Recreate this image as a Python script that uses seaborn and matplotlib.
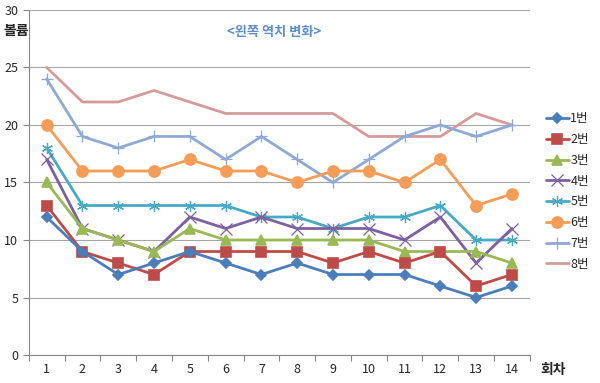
import pandas as pd
import matplotlib.pyplot as plt
import seaborn as sns

rounds = list(range(1, 15))
s1 = [12, 9, 7, 8, 9, 8, 7, 8, 7, 7, 7, 6, 5, 6]
s2 = [13, 9, 8, 7, 9, 9, 9, 9, 8, 9, 8, 9, 6, 7]
s3 = [15, 11, 10, 9, 11, 10, 10, 10, 10, 10, 9, 9, 9, 8]
s4 = [17, 11, 10, 9, 12, 11, 12, 11, 11, 11, 10, 12, 8, 11]
s5 = [18, 13, 13, 13, 13, 13, 12, 12, 11, 12, 12, 13, 10, 10]
s6 = [20, 16, 16, 16, 17, 16, 16, 15, 16, 16, 15, 17, 13, 14]
s7 = [24, 19, 18, 19, 19, 17, 19, 17, 15, 17, 19, 20, 19, 20]
s8 = [25, 22, 22, 23, 22, 21, 21, 21, 21, 19, 19, 19, 21, 20]
names = ['1번', '2번', '3번', '4번', '5번', '6번', '7번', '8번']

rows = []
for name, vals in zip(names, [s1, s2, s3, s4, s5, s6, s7, s8]):
    for r, v in zip(rounds, vals):
        rows.append({'회차': r, '볼륨': v, '번': name})
df = pd.DataFrame(rows)

sns.set_style('white')
plt.rcParams['font.family'] = ['Noto Sans CJK KR', 'DejaVu Sans']

colors = ['#4A7EBB', '#BE4B48', '#98B954', '#7D60A0', '#46AAC5', '#F59D56', '#8FA9D5', '#D59B9A']
markers = ['D', 's', '^', 'x', (6, 2, 0), 'o', '+', '']
sizes = [5, 7, 7, 8, 8, 8, 9, 1]
edge_w = [1.2, 1.2, 1.2, 0.9, 0.9, 1.2, 0.9, 1]

fig = plt.figure(figsize=(6, 3.83), dpi=100)
ax = fig.add_axes([0.048, 0.073, 0.835, 0.901])
ax.set_axisbelow(True)
ax.yaxis.grid(True, color='#A6A6A6', linewidth=0.8)

# draw from 8번 down so 1번 ends on top
for name, c, m, ms, ew in reversed(list(zip(names, colors, markers, sizes, edge_w))):
    sub = df[df['번'] == name]
    sns.lineplot(data=sub, x='회차', y='볼륨', color=c, marker=m if m else None,
                 markersize=ms, markeredgecolor=c, markeredgewidth=ew,
                 linewidth=2, ax=ax, legend=False)

ax.set_xlim(0.5, 14.5)
ax.set_ylim(0, 30)
ax.set_xticks(rounds)
ax.set_xticks([x + 0.5 for x in range(0, 15)], minor=True)
ax.set_yticks(range(0, 31, 5))
ax.tick_params(axis='x', which='major', length=0, labelsize=9, pad=6)
ax.tick_params(axis='x', which='minor', length=4, width=0.8, color='#868686',
               direction='out', bottom=True)
ax.tick_params(axis='y', length=4, width=0.8, labelsize=9, color='#868686', left=True)
ax.set_xlabel('')
ax.set_ylabel('')
for side in ['top', 'right']:
    ax.spines[side].set_visible(False)
for side in ['left', 'bottom']:
    ax.spines[side].set_color('#868686')

ax.text(0.49, 0.935, '<왼쪽 역치 변화>', transform=ax.transAxes, ha='center', va='center',
        color='#5B8DD0', fontsize=9.5, fontweight='bold')
fig.text(0.005, 0.92, '볼륨', ha='left', va='center', fontsize=10, fontweight='bold')
fig.text(0.9, 0.035, '회차', ha='left', va='center', fontsize=10, fontweight='bold')

handles = [plt.Line2D([], [], color=c, marker=m if m else None, markersize=ms,
                      markeredgecolor=c, markeredgewidth=ew, linewidth=2)
           for c, m, ms, ew in zip(colors, markers, sizes, edge_w)]
fig.legend(handles, names, loc='center left', bbox_to_anchor=(0.91, 0.50), frameon=False,
           fontsize=9, handlelength=1.8, handletextpad=0.15, labelspacing=0.62,
           borderpad=0, borderaxespad=0)

fig.savefig('out.png', dpi=100)
